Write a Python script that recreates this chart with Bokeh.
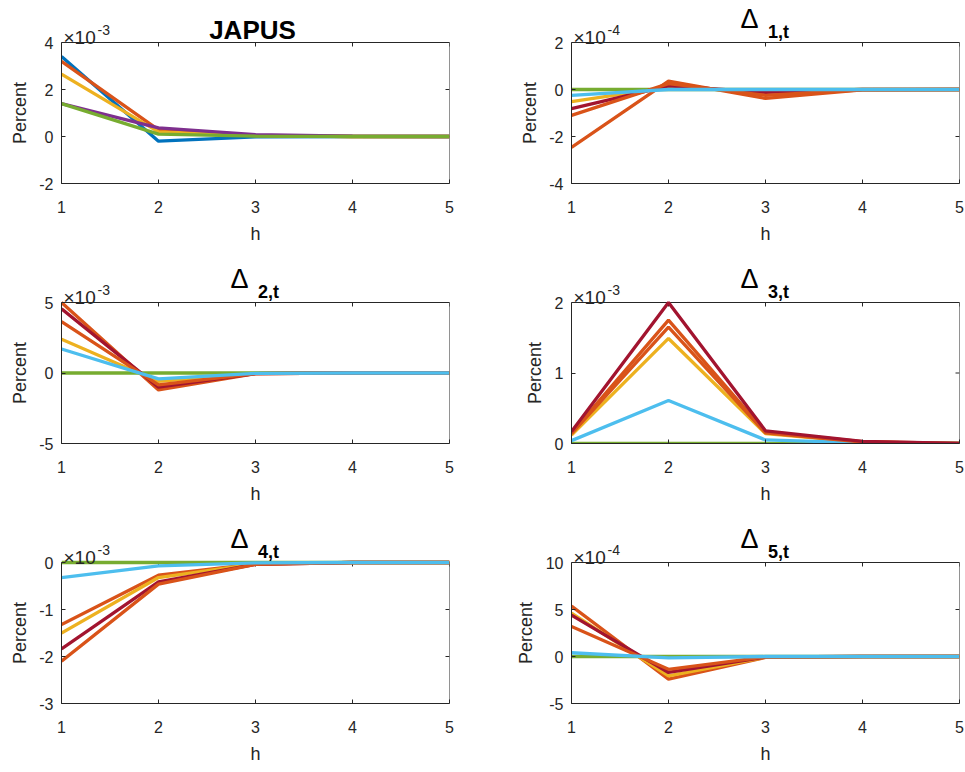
from bokeh.plotting import figure
from bokeh.models import FixedTicker, Label, Title
from bokeh.layouts import gridplot
from bokeh.embed import file_html
from bokeh.resources import INLINE

# ---------------- data ----------------
h = [1, 2, 3, 4, 5]
x_ticks = [1, 2, 3, 4, 5]

BLUE = "#0072BD"
ORANGE = "#D95319"
YELLOW = "#EDB120"
PURPLE = "#7E2F8E"
GREEN = "#77AC30"
CYAN = "#4DBEEE"
DARKRED = "#A2142F"

# JAPUS (x 1e-3)
japus_blue = [3.40, -0.20, -0.02, 0.0, 0.0]
japus_orange = [3.20, 0.28, 0.05, 0.0, 0.0]
japus_yellow = [2.65, 0.20, 0.04, 0.0, 0.0]
japus_purple = [1.40, 0.37, 0.08, 0.01, 0.0]
japus_green = [1.40, 0.10, 0.02, 0.0, 0.0]

# Delta_1 (x 1e-4)
d1_orange = [-2.46, 0.36, -0.38, -0.02, 0.0]
d1_yellow = [-0.52, 0.10, -0.10, 0.0, 0.0]
d1_green = [0.0, 0.0, 0.0, 0.0, 0.0]
d1_cyan = [-0.25, 0.0, 0.0, 0.0, 0.0]
d1_darkred = [-0.81, 0.15, -0.12, 0.0, 0.0]
d1_orange2 = [-1.10, 0.25, -0.25, -0.01, 0.0]

# Delta_2 (x 1e-3)
d2_orange = [5.00, -1.20, -0.05, 0.0, 0.0]
d2_yellow = [2.40, -0.60, -0.02, 0.0, 0.0]
d2_green = [0.0, 0.0, 0.0, 0.0, 0.0]
d2_cyan = [1.70, -0.42, -0.02, 0.0, 0.0]
d2_darkred = [4.55, -1.00, -0.05, 0.0, 0.0]
d2_orange2 = [3.65, -0.85, -0.04, 0.0, 0.0]

# Delta_3 (x 1e-3)
d3_orange = [0.15, 1.75, 0.16, 0.025, 0.0]
d3_yellow = [0.12, 1.49, 0.14, 0.02, 0.0]
d3_green = [0.0, 0.0, 0.0, 0.0, 0.0]
d3_cyan = [0.04, 0.61, 0.05, 0.01, 0.0]
d3_orange2 = [0.14, 1.65, 0.15, 0.02, 0.0]
d3_darkred = [0.17, 2.00, 0.18, 0.03, 0.0]

# Delta_4 (x 1e-3)
d4_orange = [-1.32, -0.27, -0.03, 0.0, 0.0]
d4_yellow = [-1.50, -0.32, -0.03, 0.0, 0.0]
d4_green = [0.0, 0.0, 0.0, 0.0, 0.0]
d4_cyan = [-0.32, -0.07, -0.01, 0.0, 0.0]
d4_darkred = [-1.84, -0.41, -0.04, 0.0, 0.0]
d4_orange2 = [-2.10, -0.46, -0.04, 0.0, 0.0]

# Delta_5 (x 1e-4)
d5_orange = [5.36, -2.40, -0.10, -0.02, 0.0]
d5_yellow = [4.60, -2.05, -0.08, 0.0, 0.0]
d5_green = [0.0, 0.0, 0.0, 0.0, 0.0]
d5_cyan = [0.40, -0.15, 0.0, 0.0, 0.0]
d5_darkred = [4.40, -1.70, -0.05, 0.0, 0.0]
d5_orange2 = [3.20, -1.36, -0.05, 0.0, 0.0]

titles = ["JAPUS", "1,t", "2,t", "3,t", "4,t", "5,t"]
y_limits = [(-2, 4), (-4, 2), (-5, 5), (0, 2), (-3, 0), (-5, 10)]
y_ticks = [[-2, 0, 2, 4], [-4, -2, 0, 2], [-5, 0, 5], [0, 1, 2], [-3, -2, -1, 0], [-5, 0, 5, 10]]
exponents = ["-3", "-4", "-3", "-3", "-3", "-4"]

series = [
    [(BLUE, japus_blue), (ORANGE, japus_orange), (YELLOW, japus_yellow),
     (PURPLE, japus_purple), (GREEN, japus_green)],
    [(ORANGE, d1_orange), (YELLOW, d1_yellow), (GREEN, d1_green),
     (DARKRED, d1_darkred), (ORANGE, d1_orange2), (CYAN, d1_cyan)],
    [(ORANGE, d2_orange), (YELLOW, d2_yellow), (GREEN, d2_green),
     (DARKRED, d2_darkred), (ORANGE, d2_orange2), (CYAN, d2_cyan)],
    [(ORANGE, d3_orange), (YELLOW, d3_yellow), (GREEN, d3_green),
     (CYAN, d3_cyan), (ORANGE, d3_orange2), (DARKRED, d3_darkred)],
    [(ORANGE, d4_orange), (YELLOW, d4_yellow), (GREEN, d4_green),
     (DARKRED, d4_darkred), (ORANGE, d4_orange2), (CYAN, d4_cyan)],
    [(ORANGE, d5_orange), (YELLOW, d5_yellow), (GREEN, d5_green),
     (DARKRED, d5_darkred), (ORANGE, d5_orange2), (CYAN, d5_cyan)],
]

# ---------------- style ----------------
FONT = "Liberation Sans"
AX = "#262626"
FRAME_W = 388
BOX_H = 141      # visible axes box height
HEAD = 42        # strip above the box (part of the frame) for titles
TICK = 4
LW = 3.3
YLABEL_LEN = 62  # approx. length of the rotated "Percent" label in px


def style_axis(ax):
    ax.axis_line_color = AX
    ax.axis_line_width = 1
    ax.major_tick_line_color = AX
    ax.major_tick_in = TICK
    ax.major_tick_out = 0
    ax.minor_tick_in = 0
    ax.minor_tick_out = 0
    ax.major_label_text_font = FONT
    ax.major_label_text_color = AX
    ax.major_label_text_font_size = "16px"
    ax.axis_label_text_font = FONT
    ax.axis_label_text_color = AX
    ax.axis_label_text_font_style = "normal"
    ax.axis_label_text_font_size = "18px"


def make_panel(i):
    left_col = (i % 2 == 0)
    last_row = (i >= 4)
    bl = 61 if left_col else 81
    br = 41 if left_col else 5
    height = 250 if last_row else 260
    ylo, yhi = y_limits[i]
    unit_px = BOX_H / (yhi - ylo)
    ytop = yhi + HEAD / unit_px
    p = figure(width=bl + FRAME_W + br, height=height, x_range=(1, 5), y_range=(ylo, ytop),
               output_backend="svg", toolbar_location=None, tools="",
               min_border_left=bl, min_border_right=br,
               min_border_top=0, min_border_bottom=height - HEAD - BOX_H,
               background_fill_color="white", border_fill_color="white",
               outline_line_color=None)
    p.xgrid.visible = False
    p.ygrid.visible = False

    p.xaxis.ticker = FixedTicker(ticks=x_ticks)
    p.yaxis.ticker = FixedTicker(ticks=y_ticks[i])
    p.yaxis.bounds = (ylo, yhi)
    p.xaxis.major_label_overrides = {t: str(t) for t in x_ticks}
    p.yaxis.major_label_overrides = {t: str(t) for t in y_ticks[i]}
    style_axis(p.xaxis[0])
    style_axis(p.yaxis[0])
    p.xaxis.axis_label = "h"
    p.xaxis.major_label_standoff = 17
    p.xaxis.axis_label_standoff = 8
    p.yaxis.major_label_standoff = 8

    # y label as a left-side title, centred on the visible box
    p.add_layout(Title(text="Percent", align="left",
                       offset=(BOX_H - YLABEL_LEN) / 2,
                       text_font=FONT, text_font_size="18px", text_font_style="normal",
                       text_color=AX, standoff=13), "left")

    # box: top and right edges
    p.segment(x0=[1], y0=[yhi], x1=[5], y1=[yhi], line_color=AX, line_width=1)
    p.segment(x0=[5], y0=[ylo], x1=[5], y1=[yhi], line_color=AX, line_width=1)
    # inward ticks on top and right edges
    dy = TICK / unit_px
    dx = TICK * 4.0 / FRAME_W
    p.segment(x0=x_ticks, y0=[yhi] * len(x_ticks), x1=x_ticks,
              y1=[yhi - dy] * len(x_ticks), line_color=AX, line_width=1)
    p.segment(x0=[5] * len(y_ticks[i]), y0=y_ticks[i], x1=[5 - dx] * len(y_ticks[i]),
              y1=y_ticks[i], line_color=AX, line_width=1)

    for color, vals in series[i]:
        p.line(h, vals, line_color=color, line_width=LW)

    # title
    if i == 0:
        p.add_layout(Label(x=3, y=yhi, text=titles[i], text_font=FONT,
                           text_font_size="26px", text_font_style="bold",
                           text_color="black", text_align="center",
                           text_baseline="alphabetic", x_offset=-3, y_offset=13))
    else:
        p.add_layout(Label(x=3, y=yhi, text="\u0394", text_font=FONT,
                           text_font_size="27px", text_font_style="normal",
                           text_color="black", text_align="center",
                           text_baseline="alphabetic", x_offset=-16, y_offset=24))
        p.add_layout(Label(x=3, y=yhi, text=titles[i], text_font=FONT,
                           text_font_size="18px", text_font_style="bold",
                           text_color="black", text_align="center",
                           text_baseline="alphabetic", x_offset=13, y_offset=10.5))

    # exponent
    p.add_layout(Label(x=1, y=yhi, text="\u00d710", text_font=FONT,
                       text_font_size="19px", text_color=AX, text_align="left",
                       text_baseline="alphabetic", x_offset=2, y_offset=5))
    p.add_layout(Label(x=1, y=yhi, text=exponents[i], text_font=FONT,
                       text_font_size="14px", text_color=AX, text_align="left",
                       text_baseline="alphabetic", x_offset=36, y_offset=13))
    return p


panels = [make_panel(i) for i in range(6)]
grid = gridplot([[panels[0], panels[1]], [panels[2], panels[3]], [panels[4], panels[5]]],
                toolbar_location=None)

open("out.html", "w").write(file_html(grid, INLINE))
